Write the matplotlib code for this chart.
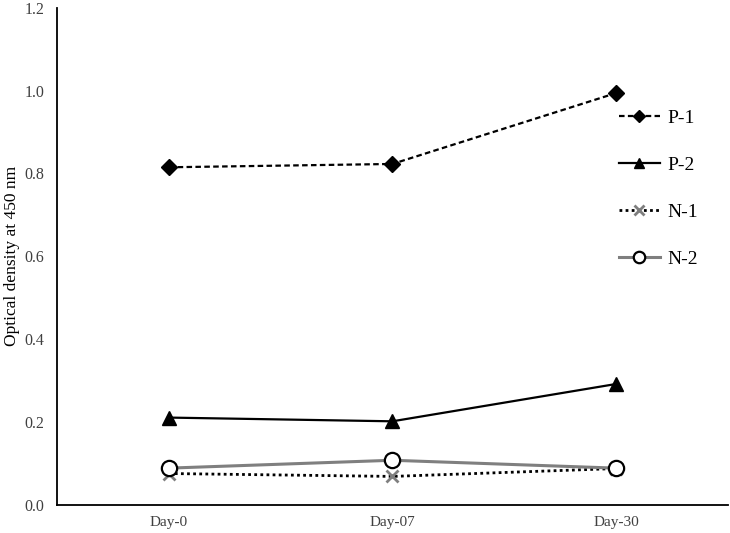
import numpy as np
import matplotlib
matplotlib.use('Agg')
import matplotlib.pyplot as plt

DAYS = ['Day-0', 'Day-07', 'Day-30']
P1 = [0.815, 0.823, 0.994]
P2 = [0.211, 0.202, 0.292]
N1 = [0.076, 0.069, 0.088]
N2 = [0.089, 0.108, 0.089]


def main():
    plt.rcParams['font.family'] = ['Liberation Serif', 'DejaVu Serif']
    fig = plt.figure(figsize=(7.3, 5.33), dpi=100)
    ax = fig.add_axes([0.078, 0.0525, 0.919, 0.933])

    x = np.arange(len(DAYS))
    ax.plot(x, P1, ls=(0, (2.5, 1.5)), color='black', lw=1.6, marker='D',
            ms=8, mfc='black', mec='black', label='P-1')
    ax.plot(x, P2, ls='-', color='black', lw=1.6, marker='^',
            ms=10, mfc='black', mec='black', label='P-2')
    ax.plot(x, N1, ls=(0, (1, 1.2)), color='black', lw=2, marker='x',
            ms=9, mew=2, mec='#7f7f7f', label='N-1')
    ax.plot(x, N2, ls='-', color='#7f7f7f', lw=2.2, marker='o',
            ms=11, mfc='white', mec='black', mew=1.6, label='N-2')

    ax.set_xlim(-0.5, 2.5)
    ax.set_ylim(0, 1.2)
    ax.set_yticks(np.arange(0, 1.21, 0.2))
    ax.yaxis.set_major_formatter(matplotlib.ticker.StrMethodFormatter('{x:.1f}'))
    ax.set_xticks(x)
    ax.set_xticklabels(DAYS)
    ax.tick_params(axis='x', length=0, labelsize=11, pad=8, colors='#404040')
    ax.tick_params(axis='y', length=0, labelsize=11.5, pad=9, colors='#404040')
    ax.set_ylabel('Optical density at 450 nm', fontsize=12.5, labelpad=3)

    for side in ('top', 'right'):
        ax.spines[side].set_visible(False)
    for side in ('left', 'bottom'):
        ax.spines[side].set_linewidth(1.3)

    ax.legend(loc='upper left', bbox_to_anchor=(619 / 730, 1 - 109 / 533),
              bbox_transform=fig.transFigure, frameon=False, borderpad=0,
              borderaxespad=0, fontsize=14, labelspacing=1.52,
              handlelength=2.1, handletextpad=0.4, markerscale=0.75)

    fig.savefig('out.png', dpi=100)


if __name__ == '__main__':
    main()
